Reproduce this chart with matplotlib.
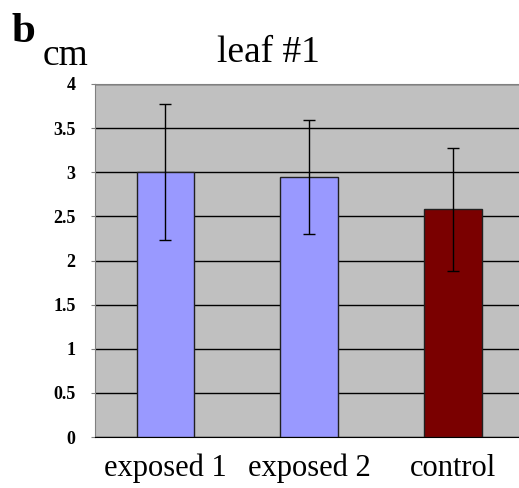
import numpy as np
import matplotlib.pyplot as plt

plt.rcParams['font.family'] = ['Liberation Serif', 'DejaVu Serif']

# data
categories = ['exposed 1', 'exposed 2', 'control']
means = [3.0, 2.95, 2.58]
errors = [0.77, 0.645, 0.70]
colors = ['#9999ff', '#9999ff', '#7a0000']
yticks = [0, 0.5, 1, 1.5, 2, 2.5, 3, 3.5, 4]
ytick_labels = ['0', '0.5', '1', '1.5', '2', '2.5', '3', '3.5', '4']

fig = plt.figure(figsize=(5.19, 4.88), dpi=100)
ax = fig.add_axes([95/519, 51/488, 1 - 95/519, 353/488])
ax.set_facecolor('#c0c0c0')

x = np.arange(len(categories))
ax.bar(x, means, width=0.4, color=colors, edgecolor='#202020', linewidth=1, zorder=3)
ax.errorbar(x, means, yerr=errors, fmt='none', ecolor='black', elinewidth=1,
            capsize=4, capthick=1, zorder=4)

ax.set_ylim(0, 4)
ax.set_xlim(-0.49, 2.46)
ax.set_yticks(yticks)
ax.set_yticklabels(ytick_labels, fontweight='bold', fontsize=13)
ax.set_xticks(x)
ax.set_xticklabels(categories, fontsize=22)
ax.tick_params(axis='x', length=0, pad=12)
ax.tick_params(axis='y', length=3, pad=11, color='#808080')
ax.yaxis.grid(True, color='black', linewidth=1)
ax.set_axisbelow(True)

for s in ['top', 'right', 'left']:
    ax.spines[s].set_color('#808080')
ax.spines['right'].set_visible(False)
ax.spines['bottom'].set_color('black')

ax.set_title('leaf #1', fontsize=27, pad=16, x=0.408)
fig.text(0.023, 0.914, 'b', fontsize=31, fontweight='bold')
fig.text(0.083, 0.866, 'cm', fontsize=27)

plt.savefig('out.png', dpi=100)
